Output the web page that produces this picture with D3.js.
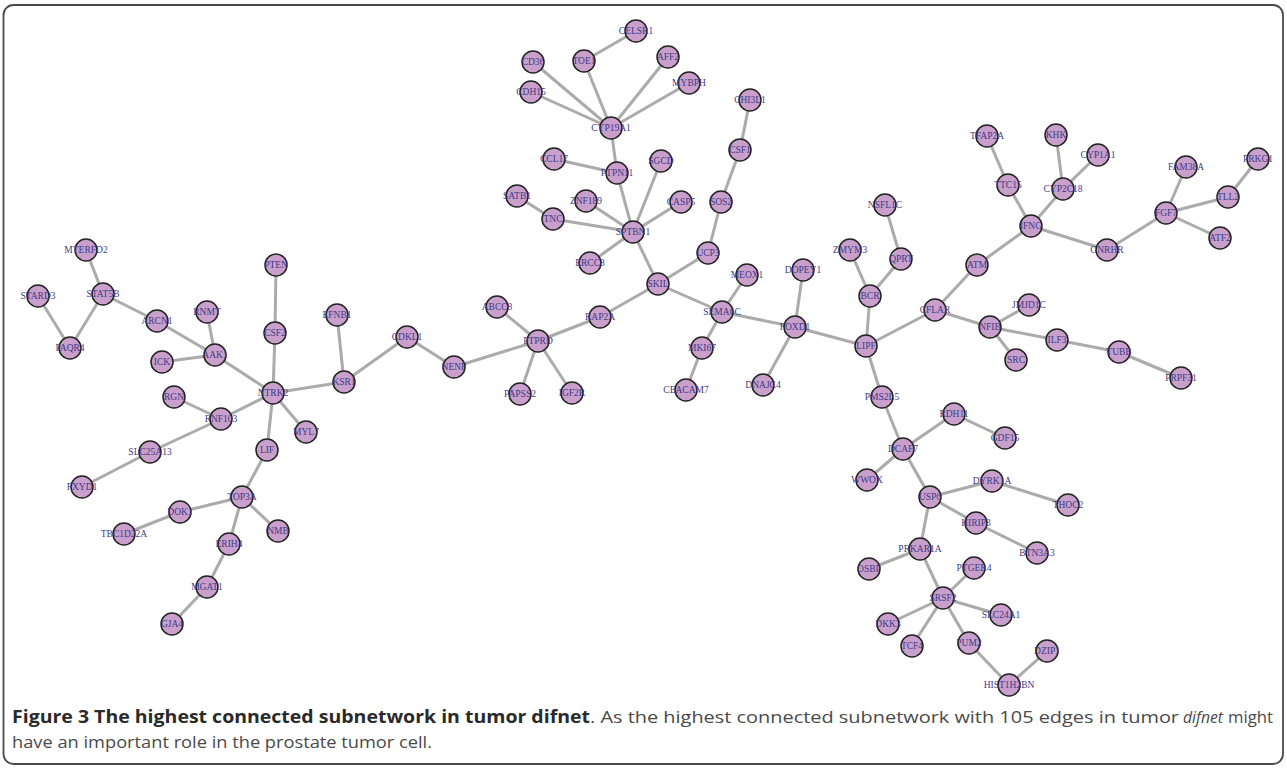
<!DOCTYPE html>
<html>
<head>
<meta charset="utf-8">
<script src="https://cdn.jsdelivr.net/npm/d3@7"></script>
<style>
  html, body { margin: 0; padding: 0; background: #fff; }
  svg { display: block; }
</style>
</head>
<body>
<svg id="chart" width="1287" height="769"></svg>
<script>
// ---- Data: node names and layout coordinates (layout units) ----
const nodeNames = [
  "MTERFD2","STARD3","STAT5B","PAQR4","ARCN1","RNMT","AAK1","ICK","PTEN","CSF2",
  "NTRK2","EFNB1","KSR1","CDKL1","NENF","RGN","RNF103","MYL7","LIF","SLC25A13",
  "FXYD1","TOP3A","DOK1","TBC1D22A","NMB","ERIH4","MGAT1","GJA4",
  "CYP19A1","CELSR1","CD36","TOE1","AFF2","MYBPH","CDH15","CCL17","PTPN11","SGCD",
  "SATB1","ZNF189","TNC","CASP5","SPTBN1","ERCC8","SKIL","UCP3","SOS2","CSF1","CHI3L1",
  "MEOX1","DOPEY1","SEMA6C","FOXD1","MKI67","CEACAM7","DNAJC4","RAP2A","PTPRD","ABCC8",
  "PAPSS2","IGF2R","ZMYM3","QPRT","BCR","NSFL1C","LIPF","CFLAR","ATM","IFNG","TTC15",
  "TFAP2A","KHK","CYP1A1","CYP2C18","GNRHR","FGF7","FAM38A","TLL2","PRKG1","ATF2",
  "NFIB","JMJD1C","SRC","ILF3","TUBB","PRPF31","PMS2L5","RDH11","GDF15","DCAF7",
  "WWOX","USP6","DYRK1A","THOC2","HIRIP3","BTN3A3","PRKAR1A","OSBP","PTGER4","SRSF2",
  "DKK3","SLC24A1","TCF4","PUM2","HIST1H2BN","DZIP1"
];
const nodeX = [
  86,38,103,70,157,207,215,162,276,275,
  273,337,344,407,454,174,221,306,267,150,
  82,242,180,124,278,229,207,172,
  611,636,533,584,668,689,531,554,617,661,
  517,586,553,681,633,590,658,708,721,740,750,
  747,803,722,795,702,686,763,600,538,497,
  520,572,850,901,870,885,866,935,977,1031,1008,
  987,1056,1098,1063,1107,1166,1186,1228,1258,1220,
  990,1029,1016,1057,1119,1181,882,954,1005,903,
  867,930,992,1068,976,1037,920,869,974,943,
  888,1001,912,969,1009,1047
];
const nodeY = [
  250,296,294,348,321,312,355,362,265,333,
  393,315,382,337,367,397,419,432,450,452,
  487,497,512,534,531,544,587,624,
  128,31,62,61,57,83,92,159,173,161,
  196,201,219,202,232,263,284,253,202,150,100,
  275,270,312,327,348,390,385,317,341,307,
  394,393,250,259,296,205,346,310,265,226,185,
  136,135,155,189,250,213,167,197,159,238,
  327,305,360,340,352,378,397,414,438,449,
  480,497,481,505,523,553,549,569,568,598,
  624,615,646,643,685,651
];
// ---- Edges (source, target) ----
const edgeSource = [
  "MTERFD2","STAT5B","STARD3","STAT5B","ARCN1","RNMT","ICK","AAK1","PTEN","CSF2",
  "NTRK2","EFNB1","KSR1","CDKL1","NENF","NTRK2","RGN","RNF103","SLC25A13","NTRK2",
  "NTRK2","LIF","TOP3A","DOK1","TOP3A","TOP3A","ERIH4","MGAT1","PTPRD","PTPRD",
  "PTPRD","PTPRD","RAP2A","SKIL","SPTBN1","SPTBN1","TNC","SPTBN1","SPTBN1","SPTBN1",
  "SPTBN1","PTPN11","PTPN11","CYP19A1","CYP19A1","CYP19A1","TOE1","CYP19A1","CYP19A1","SKIL",
  "UCP3","SOS2","CSF1","SKIL","SEMA6C","SEMA6C","MKI67","SEMA6C","FOXD1","FOXD1",
  "FOXD1","LIPF","BCR","BCR","QPRT","LIPF","CFLAR","ATM","IFNG","TTC15",
  "IFNG","CYP2C18","CYP2C18","IFNG","GNRHR","FGF7","FGF7","TLL2","FGF7","CFLAR",
  "NFIB","NFIB","NFIB","ILF3","TUBB","LIPF","PMS2L5","DCAF7","RDH11","DCAF7",
  "DCAF7","USP6","DYRK1A","USP6","HIRIP3","USP6","PRKAR1A","PRKAR1A","SRSF2","SRSF2",
  "SRSF2","SRSF2","SRSF2","PUM2","HIST1H2BN"
];
const edgeTarget = [
  "STAT5B","PAQR4","PAQR4","ARCN1","AAK1","AAK1","AAK1","NTRK2","CSF2","NTRK2",
  "KSR1","KSR1","CDKL1","NENF","PTPRD","RNF103","RNF103","SLC25A13","FXYD1","MYL7",
  "LIF","TOP3A","DOK1","TBC1D22A","NMB","ERIH4","MGAT1","GJA4","ABCC8","PAPSS2",
  "IGF2R","RAP2A","SKIL","SPTBN1","ERCC8","TNC","SATB1","ZNF189","PTPN11","SGCD",
  "CASP5","CCL17","CYP19A1","CD36","CDH15","TOE1","CELSR1","AFF2","MYBPH","UCP3",
  "SOS2","CSF1","CHI3L1","SEMA6C","MEOX1","MKI67","CEACAM7","FOXD1","DOPEY1","DNAJC4",
  "LIPF","BCR","ZMYM3","QPRT","NSFL1C","CFLAR","ATM","IFNG","TTC15","TFAP2A",
  "CYP2C18","KHK","CYP1A1","GNRHR","FGF7","FAM38A","TLL2","PRKG1","ATF2","NFIB",
  "JMJD1C","SRC","ILF3","TUBB","PRPF31","PMS2L5","DCAF7","RDH11","GDF15","WWOX",
  "USP6","DYRK1A","THOC2","HIRIP3","BTN3A3","PRKAR1A","OSBP","SRSF2","PTGER4","DKK3",
  "SLC24A1","TCF4","PUM2","HIST1H2BN","DZIP1"
];
const captionBold = "Figure 3 The highest connected subnetwork in tumor difnet";
const captionLine1a = ". As the highest connected subnetwork with 105 edges in tumor";
const captionItalic = "difnet";
const captionLine1b = "might";
const captionLine2 = "have an important role in the prostate tumor cell.";

// ---- Build ----
const svg = d3.select("#chart");

// frame
svg.append("rect")
  .attr("x", 3.5).attr("y", 5).attr("width", 1279.5).attr("height", 759)
  .attr("rx", 10).attr("ry", 10)
  .attr("fill", "none").attr("stroke", "#4a4a4a").attr("stroke-width", 1.8);

const nodes = nodeNames.map((n, i) => ({ id: n, x: nodeX[i], y: nodeY[i] }));
const byId = new Map(nodes.map(d => [d.id, d]));
const links = edgeSource.map((s, i) => ({ source: byId.get(s), target: byId.get(edgeTarget[i]) }));

const xExt = d3.extent(nodeX), yExt = d3.extent(nodeY);
const x = d3.scaleLinear().domain(xExt).range(xExt);
const y = d3.scaleLinear().domain(yExt).range(yExt);

const g = svg.append("g");
g.selectAll("line.edge").data(links).join("line")
  .attr("class", "edge")
  .attr("x1", d => x(d.source.x)).attr("y1", d => y(d.source.y))
  .attr("x2", d => x(d.target.x)).attr("y2", d => y(d.target.y))
  .attr("stroke", "#ababab").attr("stroke-width", 3);

g.selectAll("circle.node").data(nodes).join("circle")
  .attr("class", "node")
  .attr("cx", d => x(d.x)).attr("cy", d => y(d.y))
  .attr("r", 11)
  .attr("fill", "#c9a0cc")
  .attr("stroke", "#222").attr("stroke-width", 1.5);

g.selectAll("text.lbl").data(nodes).join("text")
  .attr("class", "lbl")
  .attr("x", d => x(d.x)).attr("y", d => y(d.y))
  .attr("dy", "0.35em")
  .attr("text-anchor", "middle")
  .attr("font-family", "'Liberation Serif', 'Times New Roman', serif")
  .attr("font-size", 9.5)
  .attr("fill", "#3f3a86")
  .text(d => d.id);

// caption: segments, each fitted to the width it spans in the figure
const capFont = "'Open Sans', 'Liberation Sans', sans-serif";
const segs = [
  { t: captionBold,   x0: 12,   x1: 590,  y: 723, bold: true },
  { t: captionLine1a, x0: 590,  x1: 1179, y: 723 },
  { t: captionItalic, x0: 1183, x1: 1223, y: 723, italic: true },
  { t: captionLine1b, x0: 1228, x1: 1273, y: 723 },
  { t: captionLine2,  x0: 12,   x1: 432,  y: 748 }
];
svg.selectAll("text.cap").data(segs).join("text")
  .attr("class", "cap")
  .attr("x", d => d.x0).attr("y", d => d.y)
  .attr("font-family", capFont)
  .attr("font-size", 17)
  .attr("font-weight", d => d.bold ? "bold" : "normal")
  .attr("font-style", d => d.italic ? "italic" : "normal")
  .attr("fill", d => d.bold ? "#2a2a2a" : "#4a4a4a")
  .attr("textLength", d => d.x1 - d.x0)
  .attr("lengthAdjust", "spacingAndGlyphs")
  .text(d => d.t);
</script>
</body>
</html>
